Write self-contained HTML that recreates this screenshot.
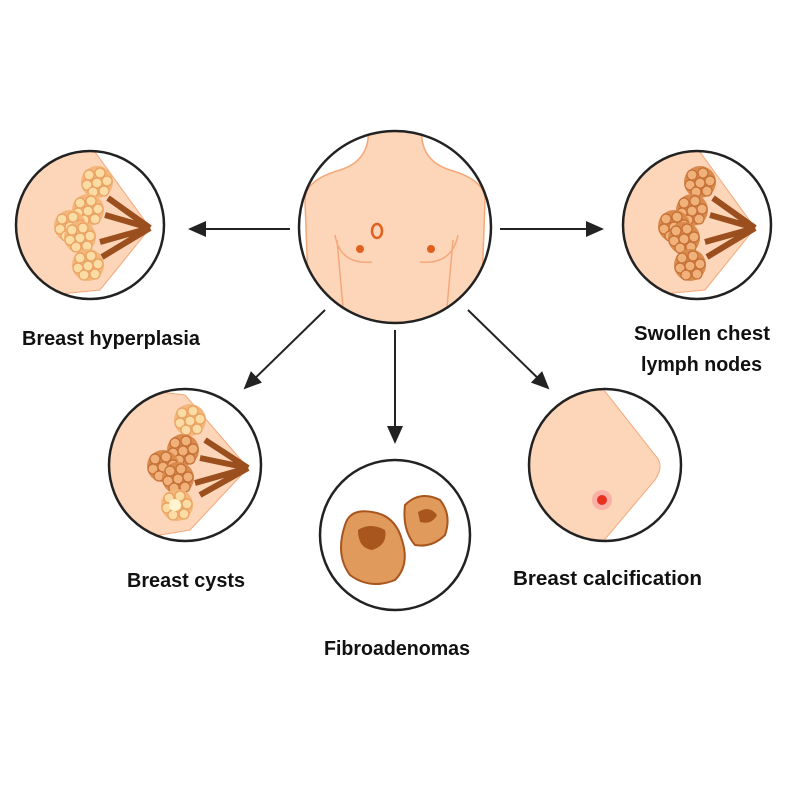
<!DOCTYPE html>
<html><head><style>
body{margin:0;background:#fff;width:800px;height:800px;overflow:hidden}
svg text{font-family:"Liberation Sans",sans-serif;font-weight:bold;font-size:20px;fill:#111}
</style></head><body>
<svg width="800" height="800" viewBox="0 0 800 800" xmlns="http://www.w3.org/2000/svg">
<defs>
<clipPath id="c0"><circle cx="395" cy="227" r="96"/></clipPath>
<clipPath id="c1"><circle cx="90" cy="225" r="74"/></clipPath>
<clipPath id="c2"><circle cx="697" cy="225" r="74"/></clipPath>
<clipPath id="c3"><circle cx="185" cy="465" r="76"/></clipPath>
<clipPath id="c5"><circle cx="605" cy="465" r="76"/></clipPath>
<marker id="ah" markerWidth="18" markerHeight="16" refX="16" refY="8" orient="auto" markerUnits="userSpaceOnUse"><path d="M0,0 L18,8 L0,16 Z" fill="#222"/></marker>
<g id="cl">
<circle cx="0" cy="0" r="16" fill="#f3b77a"/>
<g fill="#fbdca4" stroke="#e9a060" stroke-width="1.2">
<circle cx="-8" cy="-7" r="5"/><circle cx="3" cy="-9" r="5"/><circle cx="10" cy="-1" r="5"/><circle cx="-10" cy="3" r="5"/><circle cx="0" cy="1" r="5"/><circle cx="7" cy="9" r="5"/><circle cx="-4" cy="10" r="5"/>
</g>
</g>
<g id="cl2">
<circle cx="0" cy="0" r="16" fill="#d98a4c"/>
<g fill="#f0b27a" stroke="#c46f35" stroke-width="1.2">
<circle cx="-8" cy="-7" r="5"/><circle cx="3" cy="-9" r="5"/><circle cx="10" cy="-1" r="5"/><circle cx="-10" cy="3" r="5"/><circle cx="0" cy="1" r="5"/><circle cx="7" cy="9" r="5"/><circle cx="-4" cy="10" r="5"/>
</g>
</g>
</defs>
<!-- center -->
<g clip-path="url(#c0)">
<path d="M368,125 Q372,160 340,170 Q305,180 305,200 L310,340 L480,340 L485,200 Q485,180 450,170 Q418,160 422,125 Z" fill="#fdd5b8" stroke="#f4a87a" stroke-width="1.5"/>
<path d="M335,235 Q340,265 372,262 M458,235 Q452,265 420,262 M337,240 L345,330 M453,240 L445,330" stroke="#f4a87a" fill="none" stroke-width="1.5"/>
</g>
<circle cx="395" cy="227" r="96" fill="none" stroke="#222" stroke-width="2.5"/>
<circle cx="360" cy="249" r="4" fill="#e0601f"/><circle cx="431" cy="249" r="4" fill="#e0601f"/>
<ellipse cx="377" cy="231" rx="5" ry="7" fill="none" stroke="#e0601f" stroke-width="2.5"/>

<!-- left top -->
<g clip-path="url(#c1)">
<path d="M0,140 L95,152 L150,228 L100,290 L0,300 Z" fill="#fdd5b8" stroke="#f4a87a"/>
<path d="M150,228 L108,198 M150,228 L105,215 M150,228 L100,242 M150,228 L102,257" stroke="#9b4f1e" stroke-width="6" fill="none"/>
<use href="#cl" x="97" y="182"/><use href="#cl" x="88" y="210"/><use href="#cl" x="70" y="226"/><use href="#cl" x="80" y="237"/><use href="#cl" x="88" y="265"/>
</g>
<circle cx="90" cy="225" r="74" fill="none" stroke="#222" stroke-width="2.5"/>

<!-- right top -->
<g clip-path="url(#c2)">
<path d="M600,140 L700,152 L755,228 L705,290 L600,300 Z" fill="#fdd5b8" stroke="#f4a87a"/>
<path d="M755,228 L713,198 M755,228 L710,215 M755,228 L705,242 M755,228 L707,257" stroke="#9b4f1e" stroke-width="6" fill="none"/>
<use href="#cl2" x="700" y="182"/><use href="#cl2" x="692" y="210"/><use href="#cl2" x="674" y="226"/><use href="#cl2" x="684" y="238"/><use href="#cl2" x="690" y="265"/>
</g>
<circle cx="697" cy="225" r="74" fill="none" stroke="#222" stroke-width="2.5"/>

<!-- cysts -->
<g clip-path="url(#c3)">
<path d="M100,385 L185,395 L248,468 L190,530 L100,545 Z" fill="#fdd5b8" stroke="#f4a87a"/>
<path d="M248,468 L205,440 M248,468 L200,458 M248,468 L195,483 M248,468 L200,495" stroke="#9b4f1e" stroke-width="6" fill="none"/>
<use href="#cl" x="190" y="420"/><use href="#cl2" x="183" y="450"/><use href="#cl2" x="163" y="466"/><use href="#cl2" x="178" y="478"/><use href="#cl" x="177" y="505"/>
<circle cx="175" cy="505" r="6" fill="#fff3d0"/>
</g>
<circle cx="185" cy="465" r="76" fill="none" stroke="#222" stroke-width="2.5"/>

<!-- fibroadenomas -->
<circle cx="395" cy="535" r="75" fill="#fff" stroke="#222" stroke-width="2.5"/>
<path d="M345,525 Q350,508 372,512 Q395,515 402,540 Q410,565 395,580 Q370,590 350,575 Q335,555 345,525 Z" fill="#e09a5c" stroke="#a8561e" stroke-width="2"/>
<path d="M358,530 Q370,522 385,530 Q388,545 372,550 Q358,548 358,530 Z" fill="#a8561e"/>
<path d="M405,505 Q420,490 440,500 Q452,515 445,535 Q432,548 415,545 Q402,530 405,505 Z" fill="#e09a5c" stroke="#a8561e" stroke-width="2"/>
<path d="M418,512 Q430,505 437,515 Q432,525 420,522 Z" fill="#a8561e"/>

<!-- calcification -->
<g clip-path="url(#c5)">
<path d="M520,380 L600,385 L655,455 Q665,465 655,480 L600,545 L520,550 Z" fill="#fdd5b8" stroke="#f4a87a"/>
</g>
<circle cx="605" cy="465" r="76" fill="none" stroke="#222" stroke-width="2.5"/>
<circle cx="602" cy="500" r="10" fill="#f6a0a0" opacity="0.7"/>
<circle cx="602" cy="500" r="5" fill="#e8321e"/>

<!-- arrows -->
<g stroke="#222" stroke-width="2" marker-end="url(#ah)">
<line x1="290" y1="229" x2="190" y2="229"/>
<line x1="500" y1="229" x2="602" y2="229"/>
<line x1="325" y1="310" x2="245" y2="388"/>
<line x1="395" y1="330" x2="395" y2="442"/>
<line x1="468" y1="310" x2="548" y2="388"/>
</g>

<text x="22" y="345" textLength="178" lengthAdjust="spacingAndGlyphs">Breast hyperplasia</text>
<text x="634" y="340" textLength="136" lengthAdjust="spacingAndGlyphs">Swollen chest</text>
<text x="641" y="371" textLength="121" lengthAdjust="spacingAndGlyphs">lymph nodes</text>
<text x="127" y="587" textLength="118" lengthAdjust="spacingAndGlyphs">Breast cysts</text>
<text x="324" y="655" textLength="146" lengthAdjust="spacingAndGlyphs">Fibroadenomas</text>
<text x="513" y="585" textLength="189" lengthAdjust="spacingAndGlyphs">Breast calcification</text>
</svg>
</body></html>
